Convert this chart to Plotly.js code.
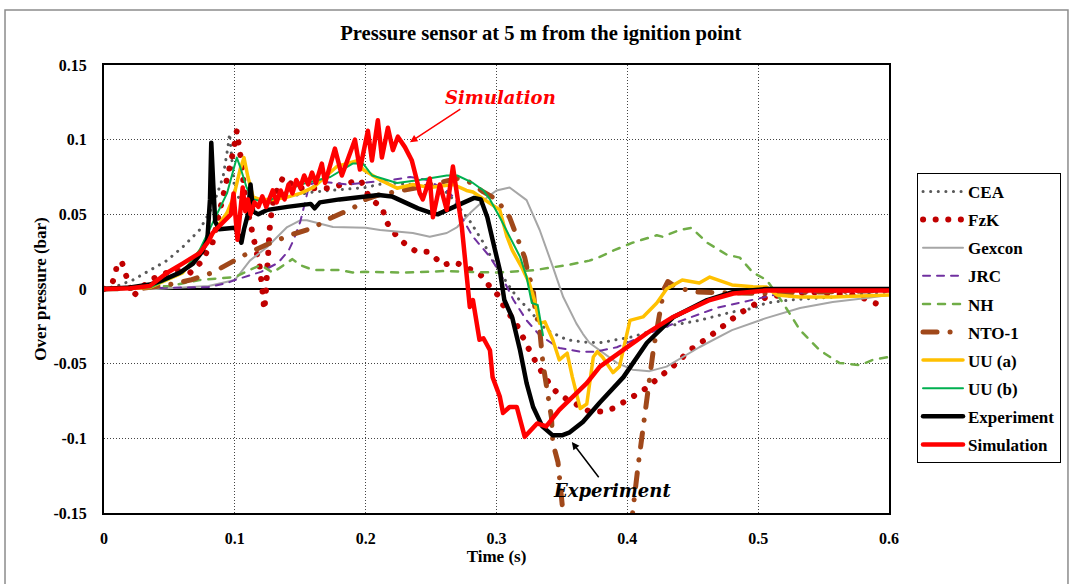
<!DOCTYPE html>
<html>
<head>
<meta charset="utf-8">
<script src="https://cdn.plot.ly/plotly-3.0.1.min.js"></script>
<style>
  html, body { margin: 0; padding: 0; background: #fff; }
  #chart { width: 1073px; height: 584px; }
  path.js-line { stroke-linecap: round; stroke-linejoin: round; }
</style>
</head>
<body>
<div id="chart"></div>
<script>
// ---------------- data ----------------
const seriesNames = ['CEA', 'FzK', 'Gexcon', 'JRC', 'NH', 'NTO-1', 'UU (a)', 'UU (b)', 'Experiment', 'Simulation'];

const ceaT = [0, 0.01, 0.022, 0.035, 0.048, 0.06, 0.073, 0.083, 0.091, 0.0947, 0.096, 0.098, 0.1, 0.104, 0.11, 0.13, 0.16, 0.2, 0.21, 0.22, 0.25, 0.257, 0.264, 0.28, 0.29, 0.297, 0.308, 0.3155, 0.325, 0.338, 0.354, 0.366, 0.379, 0.404, 0.43, 0.455, 0.48, 0.496, 0.506, 0.524, 0.557, 0.5875, 0.6];
const ceaP = [0, 0.002, 0.006, 0.0127, 0.019, 0.028, 0.0395, 0.055, 0.075, 0.095, 0.104, 0.084, 0.065, 0.06, 0.058, 0.06, 0.065, 0.068, 0.07, 0.071, 0.069, 0.068, 0.063, 0.045, 0.031, 0.0195, 0.004, -0.0054, -0.014, -0.0275, -0.034, -0.0355, -0.036, -0.032, -0.025, -0.021, -0.0154, -0.013, -0.0094, -0.0074, -0.0054, -0.0027, -0.002];

const fzkT = [0, 0.006, 0.009, 0.01, 0.014, 0.016, 0.022, 0.035, 0.053, 0.066, 0.073, 0.083, 0.091, 0.0947, 0.099, 0.1015, 0.105, 0.108, 0.112, 0.116, 0.119, 0.121, 0.1225, 0.1235, 0.125, 0.127, 0.13, 0.137, 0.147, 0.171, 0.196, 0.203, 0.213, 0.215, 0.224, 0.231, 0.239, 0.247, 0.253, 0.259, 0.267, 0.274, 0.285, 0.29, 0.295, 0.301, 0.305, 0.3155, 0.324, 0.332, 0.342, 0.348, 0.371, 0.3805, 0.389, 0.397, 0.404, 0.412, 0.419, 0.426, 0.432, 0.44, 0.446, 0.454, 0.461, 0.476, 0.484, 0.499, 0.506, 0.54, 0.557, 0.575, 0.589, 0.598];
const fzkP = [0, 0.003, 0.011, 0.018, 0.017, 0.011, -0.005, 0.006, 0.0127, 0.011, 0.017, 0.031, 0.06, 0.075, 0.093, 0.106, 0.085, 0.06, 0.045, 0.03, 0.015, 0.0, -0.014, -0.005, 0.02, 0.045, 0.062, 0.075, 0.0675, 0.0675, 0.073, 0.061, 0.054, 0.046, 0.035, 0.0295, 0.025, 0.025, 0.021, 0.016, 0.018, 0.016, 0.011, 0.008, 0.0013, -0.004, -0.0107, -0.024, -0.039, -0.052, -0.0655, -0.071, -0.082, -0.082, -0.08, -0.076, -0.072, -0.068, -0.063, -0.058, -0.053, -0.048, -0.042, -0.0375, -0.033, -0.023, -0.0174, -0.0094, -0.0054, -0.002, -0.003, -0.004, -0.0094, -0.012];

const gexT = [0, 0.04, 0.08, 0.1, 0.1115, 0.1245, 0.14, 0.15, 0.155, 0.175, 0.2, 0.211, 0.236, 0.249, 0.262, 0.27, 0.28, 0.293, 0.3, 0.31, 0.323, 0.333, 0.343, 0.351, 0.361, 0.366, 0.371, 0.379, 0.392, 0.404, 0.417, 0.43, 0.442, 0.455, 0.48, 0.506, 0.532, 0.557, 0.583, 0.6];
const gexP = [0, 0, 0.002, 0.006, 0.019, 0.028, 0.0415, 0.046, 0.046, 0.0415, 0.041, 0.0395, 0.0375, 0.035, 0.0375, 0.0415, 0.051, 0.0615, 0.066, 0.068, 0.0595, 0.0395, 0.015, -0.0054, -0.023, -0.03, -0.036, -0.041, -0.0495, -0.054, -0.055, -0.052, -0.046, -0.039, -0.0275, -0.0195, -0.0127, -0.0087, -0.006, -0.004];

const jrcT = [0, 0.05, 0.08, 0.094, 0.1, 0.12, 0.133, 0.141, 0.145, 0.15, 0.153, 0.157, 0.165, 0.186, 0.22, 0.234, 0.247, 0.262, 0.269, 0.272, 0.282, 0.295, 0.3025, 0.313, 0.323, 0.333, 0.348, 0.364, 0.376, 0.392, 0.417, 0.442, 0.468, 0.494, 0.519, 0.557, 0.6];
const jrcP = [0, 0.0005, 0.0013, 0.004, 0.006, 0.0115, 0.0175, 0.0255, 0.033, 0.045, 0.055, 0.07, 0.072, 0.07, 0.073, 0.075, 0.073, 0.066, 0.06, 0.05, 0.035, 0.0215, 0.011, -0.0074, -0.021, -0.031, -0.0395, -0.042, -0.042, -0.039, -0.0295, -0.021, -0.0127, -0.0074, -0.0027, -0.002, -0.0015];

const nhT = [0, 0.05, 0.073, 0.1, 0.117, 0.12, 0.129, 0.14, 0.144, 0.15, 0.16, 0.18, 0.19, 0.2, 0.23, 0.26, 0.3, 0.328, 0.354, 0.371, 0.379, 0.39, 0.404, 0.4225, 0.427, 0.44, 0.449, 0.461, 0.476, 0.486, 0.496, 0.5065, 0.519, 0.532, 0.547, 0.562, 0.578, 0.5875, 0.6];
const nhP = [0, 0.002, 0.006, 0.008, 0.015, 0.016, 0.011, 0.0175, 0.02, 0.016, 0.0127, 0.0127, 0.011, 0.0115, 0.011, 0.012, 0.011, 0.0125, 0.016, 0.019, 0.0215, 0.026, 0.031, 0.036, 0.035, 0.0395, 0.041, 0.031, 0.023, 0.021, 0.011, 0.006, -0.0094, -0.0275, -0.041, -0.0495, -0.051, -0.0475, -0.0455];

const ntoT = [0, 0.03, 0.05, 0.066, 0.083, 0.097, 0.11, 0.125, 0.142, 0.16, 0.172, 0.19, 0.2, 0.21, 0.24, 0.27, 0.277, 0.29, 0.3, 0.31, 0.314, 0.319, 0.3216, 0.324, 0.328, 0.3295, 0.333, 0.3355, 0.337, 0.339, 0.342, 0.343, 0.347, 0.352, 0.36, 0.39, 0.404, 0.408, 0.411, 0.414, 0.417, 0.42, 0.424, 0.428, 0.431, 0.436, 0.45, 0.5, 0.55, 0.6];
const ntoP = [0, 0.0005, 0.003, 0.006, 0.011, 0.018, 0.024, 0.03, 0.036, 0.041, 0.047, 0.054, 0.06, 0.063, 0.068, 0.074, 0.073, 0.065, 0.06, 0.048, 0.038, 0.026, 0.021, 0.011, 0.0, -0.014, -0.027, -0.05, -0.059, -0.072, -0.086, -0.103, -0.116, -0.16, -0.2, -0.2, -0.15, -0.12, -0.1, -0.08, -0.06, -0.04, -0.02, 0, 0.005, 0.002, -0.002, -0.003, -0.002, -0.001];

const uuaT = [0, 0.035, 0.06, 0.08, 0.094, 0.099, 0.104, 0.107, 0.11, 0.114, 0.119, 0.129, 0.14, 0.15, 0.16, 0.178, 0.1935, 0.198, 0.211, 0.224, 0.236, 0.249, 0.267, 0.277, 0.282, 0.295, 0.3025, 0.308, 0.312, 0.319, 0.325, 0.329, 0.333, 0.337, 0.343, 0.348, 0.354, 0.358, 0.364, 0.369, 0.374, 0.377, 0.381, 0.389, 0.394, 0.402, 0.412, 0.4225, 0.43, 0.442, 0.455, 0.463, 0.48, 0.496, 0.5065, 0.514, 0.532, 0.557, 0.583, 0.6];
const uuaP = [0, 0.001, 0.0107, 0.033, 0.051, 0.0615, 0.08, 0.088, 0.075, 0.0615, 0.06, 0.06, 0.0615, 0.064, 0.068, 0.082, 0.086, 0.08, 0.073, 0.0675, 0.07, 0.068, 0.07, 0.066, 0.065, 0.0575, 0.053, 0.035, 0.026, 0.015, 0.004, -0.0074, -0.023, -0.022, -0.034, -0.0475, -0.043, -0.059, -0.08, -0.077, -0.0455, -0.042, -0.0455, -0.056, -0.052, -0.021, -0.0187, -0.0094, 0, 0.006, 0.004, 0.008, 0.0027, 0.0015, 0.0013, -0.004, -0.0054, -0.0054, -0.0045, -0.004];

const uubT = [0, 0.035, 0.06, 0.073, 0.094, 0.1015, 0.104, 0.109, 0.114, 0.124, 0.15, 0.173, 0.19, 0.198, 0.205, 0.224, 0.241, 0.262, 0.27, 0.282, 0.29, 0.295, 0.3025, 0.31, 0.318, 0.323, 0.327, 0.3315, 0.3355];
const uubP = [0, 0.001, 0.011, 0.026, 0.064, 0.088, 0.082, 0.068, 0.06, 0.058, 0.07, 0.075, 0.084, 0.084, 0.076, 0.071, 0.073, 0.076, 0.076, 0.071, 0.066, 0.06, 0.048, 0.035, 0.0215, 0.008, -0.0094, -0.0107, -0.031];

const expT = [0, 0.02, 0.035, 0.045, 0.058, 0.068, 0.075, 0.079, 0.081, 0.082, 0.0835, 0.085, 0.088, 0.095, 0.1, 0.103, 0.105, 0.107, 0.11, 0.112, 0.114, 0.118, 0.125, 0.14, 0.158, 0.161, 0.165, 0.18, 0.2, 0.21, 0.22, 0.23, 0.24, 0.25, 0.255, 0.265, 0.275, 0.283, 0.288, 0.293, 0.297, 0.3025, 0.306, 0.312, 0.318, 0.323, 0.328, 0.335, 0.343, 0.35, 0.356, 0.366, 0.379, 0.397, 0.415, 0.435, 0.461, 0.481, 0.506, 0.6];
const expP = [0, 0.001, 0.003, 0.006, 0.011, 0.017, 0.025, 0.033, 0.06, 0.098, 0.07, 0.045, 0.04, 0.041, 0.041, 0.036, 0.031, 0.04, 0.05, 0.07, 0.052, 0.05, 0.053, 0.055, 0.057, 0.054, 0.058, 0.06, 0.0625, 0.063, 0.062, 0.058, 0.054, 0.051, 0.05, 0.054, 0.058, 0.061, 0.06, 0.048, 0.033, 0.0127, -0.0074, -0.019, -0.041, -0.063, -0.079, -0.092, -0.098, -0.098, -0.096, -0.089, -0.076, -0.059, -0.036, -0.019, -0.0074, -0.002, 0, 0];

const simT = [0, 0.02, 0.035, 0.048, 0.06, 0.073, 0.08, 0.083, 0.088, 0.094, 0.097, 0.099, 0.1, 0.102, 0.104, 0.106, 0.108, 0.11, 0.112, 0.115, 0.118, 0.121, 0.124, 0.127, 0.129, 0.132, 0.135, 0.138, 0.141, 0.144, 0.147, 0.15, 0.153, 0.156, 0.159, 0.162, 0.1665, 0.169, 0.172, 0.1765, 0.1818, 0.1918, 0.1956, 0.2017, 0.2048, 0.2093, 0.2124, 0.217, 0.2208, 0.2246, 0.23, 0.2353, 0.2391, 0.2414, 0.2437, 0.249, 0.2514, 0.2567, 0.262, 0.2667, 0.2735, 0.2773, 0.2796, 0.282, 0.287, 0.29, 0.295, 0.297, 0.3025, 0.305, 0.31, 0.3155, 0.3216, 0.331, 0.338, 0.348, 0.358, 0.369, 0.379, 0.396, 0.415, 0.435, 0.463, 0.481, 0.506, 0.6];
const simP = [0, 0.0005, 0.002, 0.0107, 0.017, 0.024, 0.032, 0.0375, 0.042, 0.048, 0.05, 0.064, 0.055, 0.033, 0.05, 0.068, 0.052, 0.06, 0.05, 0.058, 0.055, 0.062, 0.055, 0.063, 0.066, 0.058, 0.066, 0.06, 0.07, 0.064, 0.073, 0.068, 0.076, 0.07, 0.078, 0.071, 0.084, 0.071, 0.08, 0.094, 0.076, 0.1, 0.08, 0.106, 0.086, 0.113, 0.088, 0.108, 0.093, 0.102, 0.095, 0.086, 0.073, 0.064, 0.06, 0.074, 0.048, 0.07, 0.053, 0.082, 0.0415, 0.008, -0.012, -0.0074, -0.034, -0.033, -0.041, -0.059, -0.072, -0.083, -0.079, -0.079, -0.099, -0.09, -0.092, -0.081, -0.072, -0.063, -0.052, -0.041, -0.0295, -0.0187, -0.0074, -0.003, -0.001, -0.001];

const xTickVals = [0, 0.1, 0.2, 0.3, 0.4, 0.5, 0.6];
const xTickText = ['0', '0.1', '0.2', '0.3', '0.4', '0.5', '0.6'];
const yTickVals = [0.15, 0.1, 0.05, 0, -0.05, -0.1, -0.15];
const yTickText = ['0.15', '0.1', '0.05', '0', '-0.05', '-0.1', '-0.15'];

const chartTitle = 'Pressure sensor at 5 m from the ignition point';
const xTitle = 'Time (s)';
const yTitle = 'Over pressure (bar)';
const noteSim = 'Simulation';
const noteExp = 'Experiment';

// ---------------- styles ----------------
const serif = 'Liberation Serif, Times New Roman, serif';
const styles = [
  {color: '#595959', width: 3,   dash: '0.1px,7.5px'},
  {color: '#C00000', width: 6,   dash: '0.1px,12.5px'},
  {color: '#A6A6A6', width: 2,   dash: 'solid'},
  {color: '#7030A0', width: 2,   dash: '7px,7px'},
  {color: '#70AD47', width: 2.5, dash: '7px,8px'},
  {color: '#A0481A', width: 5,   dash: '14px,13px,0.1px,13px'},
  {color: '#FFC000', width: 3.5, dash: 'solid'},
  {color: '#00B050', width: 2,   dash: 'solid'},
  {color: '#000000', width: 4.5, dash: 'solid'},
  {color: '#FF0000', width: 4.5, dash: 'solid'}
];
const xs = [ceaT, fzkT, gexT, jrcT, nhT, ntoT, uuaT, uubT, expT, simT];
const ys = [ceaP, fzkP, gexP, jrcP, nhP, ntoP, uuaP, uubP, expP, simP];

const traces = seriesNames.map((n, i) => ({
  type: 'scatter', mode: 'lines', name: n,
  x: xs[i], y: ys[i],
  legendgroup: 'g' + i,
  line: {color: styles[i].color, width: styles[i].width, dash: styles[i].dash}
}));

const layout = {
  width: 1073, height: 584,
  margin: {l: 104, r: 184, t: 65, b: 71},
  paper_bgcolor: '#ffffff', plot_bgcolor: '#ffffff',
  showlegend: true,
  title: {text: chartTitle, x: 0.504, xanchor: 'center', y: 0.9435, yanchor: 'middle', yref: 'container',
          font: {family: serif, size: 20.6, color: '#000', weight: 'bold'}},
  xaxis: {
    range: [0, 0.6], tickvals: xTickVals, ticktext: xTickText,
    showgrid: true, gridcolor: '#444', griddash: '1px,2px', gridwidth: 1,
    showline: true, linecolor: '#000', linewidth: 2, mirror: true,
    zeroline: false, ticks: '', ticklabelstandoff: 10,
    tickfont: {family: serif, size: 16, color: '#000', weight: 'bold'},
    title: {text: xTitle, standoff: 3, font: {family: serif, size: 17, color: '#000', weight: 'bold'}}
  },
  yaxis: {
    range: [-0.15, 0.15], tickvals: yTickVals, ticktext: yTickText,
    showgrid: true, gridcolor: '#444', griddash: '1px,2px', gridwidth: 1,
    showline: true, linecolor: '#000', linewidth: 2, mirror: true,
    zeroline: true, zerolinecolor: '#000', zerolinewidth: 2,
    ticks: '', ticklabelstandoff: 12,
    tickfont: {family: serif, size: 16, color: '#000', weight: 'bold'},
    title: {text: yTitle, standoff: 3, font: {family: serif, size: 17, color: '#000', weight: 'bold'}}
  },
  legend: {
    x: 1.0357, xanchor: 'left', y: 0.759, yanchor: 'top',
    bordercolor: '#000', borderwidth: 1, bgcolor: '#fff',
    font: {family: serif, size: 17, color: '#000', weight: 'bold'},
    traceorder: 'grouped', tracegroupgap: 3, itemwidth: 40
  },
  annotations: [
    {xref: 'x', yref: 'y', x: 0.3034, y: 0.1285, text: noteSim, showarrow: false,
     font: {family: 'DejaVu Serif, serif', size: 18, color: '#FF0000', style: 'italic', weight: 'bold'}},
    {xref: 'x', yref: 'y', x: 0.2338, y: 0.0983, ax: 0.2735, ay: 0.1211, axref: 'x', ayref: 'y',
     text: '', showarrow: true, arrowhead: 2, arrowsize: 1, arrowwidth: 1.5, arrowcolor: '#FF0000', standoff: 0},
    {xref: 'x', yref: 'y', x: 0.388, y: -0.1352, text: noteExp, showarrow: false,
     font: {family: 'DejaVu Serif, serif', size: 18, color: '#000', style: 'italic', weight: 'bold'}},
    {xref: 'x', yref: 'y', x: 0.3576, y: -0.1024, ax: 0.379, ay: -0.1271, axref: 'x', ayref: 'y',
     text: '', showarrow: true, arrowhead: 2, arrowsize: 1, arrowwidth: 1.5, arrowcolor: '#000', standoff: 0}
  ],
  shapes: [
    {type: 'rect', xref: 'paper', yref: 'paper', x0: -0.1261, x1: 1.228, y0: -0.2, y1: 1.1228,
     line: {color: '#8c8c8c', width: 1.5}, fillcolor: 'rgba(0,0,0,0)'}
  ]
};

Plotly.newPlot('chart', traces, layout, {displayModeBar: false, staticPlot: true});
</script>
</body>
</html>
